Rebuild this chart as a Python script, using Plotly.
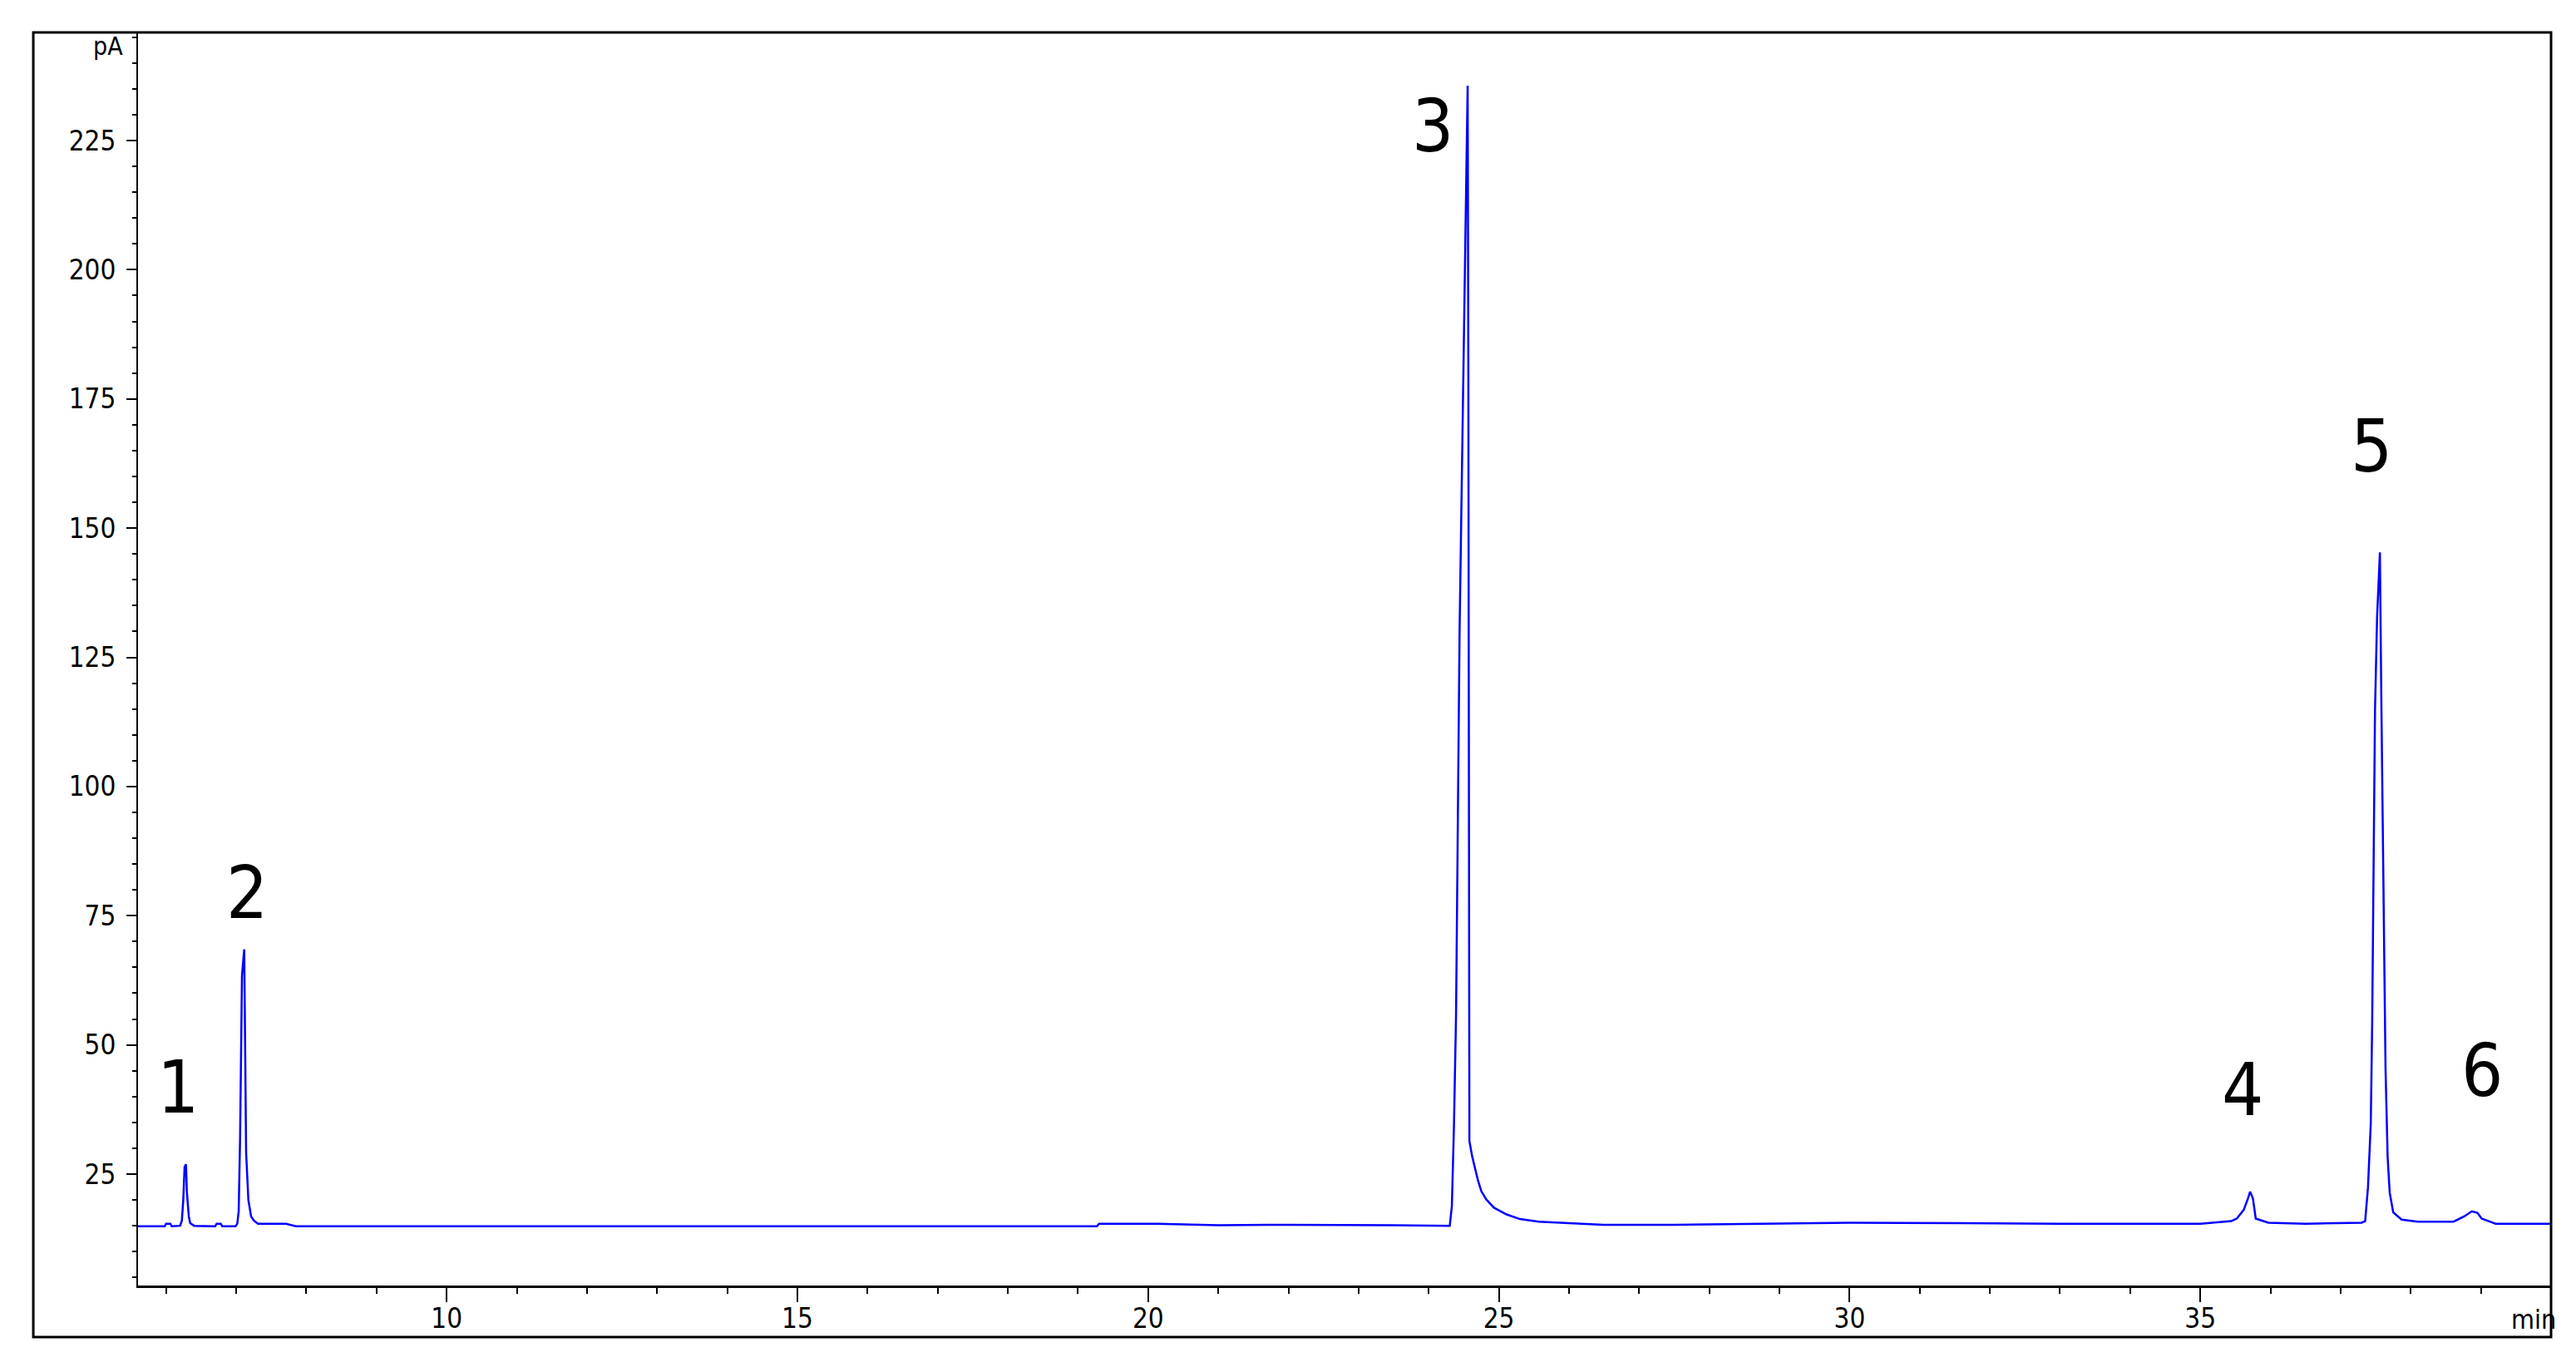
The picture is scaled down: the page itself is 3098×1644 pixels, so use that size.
import plotly.graph_objects as go

# retention time (min) and detector signal (pA)
time_min = [
    5.60, 5.98, 6.00, 6.06, 6.08, 6.20, 6.225, 6.245, 6.264, 6.284, 6.296, 6.324, 6.344, 6.40,
    6.70, 6.72, 6.78, 6.80, 6.99, 7.015, 7.035, 7.055, 7.082, 7.114, 7.122, 7.141, 7.173,
    7.212, 7.252, 7.31, 7.71, 7.85,
    12.0, 15.0, 19.27, 19.30, 20.13, 21.0, 22.0, 23.5, 24.25,
    24.30, 24.33, 24.36, 24.39, 24.42, 24.44, 24.467, 24.49, 24.518, 24.538, 24.555,
    24.565, 24.58, 24.62, 24.66, 24.70, 24.75, 24.82, 24.93, 25.11, 25.30, 25.57,
    26.0, 26.49, 27.5, 28.76, 30.0, 31.6, 33.0, 35.0,
    35.44, 35.52, 35.62, 35.68, 35.71, 35.75, 35.79, 35.97, 36.5,
    37.30, 37.35, 37.39, 37.43, 37.45, 37.47, 37.49, 37.52, 37.56, 37.58, 37.61, 37.64,
    37.67, 37.70, 37.75, 37.87, 38.10, 38.61,
    38.76, 38.87, 38.95, 39.01, 39.11, 39.21, 40.0,
]
signal_pa = [
    14.9, 14.9, 15.4, 15.4, 14.9, 15.0, 16.0, 20.0, 26.4, 26.9, 21.6, 16.8, 15.5, 15.0,
    14.9, 15.4, 15.4, 14.9, 14.9, 15.4, 17.8, 32.0, 63.4, 68.5, 56.7, 29.1, 20.0,
    16.8, 16.0, 15.4, 15.4, 14.9,
    14.9, 14.9, 14.9, 15.4, 15.4, 15.1, 15.2, 15.1, 15.0,
    15.0, 18.8, 34.4, 56.0, 107.0, 130.0, 155.0, 176.0, 196.0, 222.0, 235.6,
    180.0, 31.4, 28.4, 26.0, 23.9, 21.7, 20.1, 18.5, 17.2, 16.3, 15.8,
    15.5, 15.2, 15.2, 15.4, 15.6, 15.5, 15.4, 15.4,
    15.9, 16.4, 18.1, 20.3, 21.6, 20.3, 16.4, 15.6, 15.4,
    15.6, 15.9, 22.4, 34.8, 54.2, 83.3, 114.6, 132.9, 145.3, 117.3, 77.9, 45.6,
    28.4, 21.4, 17.6, 16.2, 15.8, 15.8,
    16.8, 17.8, 17.5, 16.4, 15.9, 15.4, 15.4,
]

peak_labels = ["1", "2", "3", "4", "5", "6"]
peak_label_x = [6.17, 7.15, 24.06, 35.60, 37.44, 39.02]
peak_label_y = [41.8, 79.5, 227.9, 41.3, 165.8, 45.1]

x_tick_vals = [10, 15, 20, 25, 30, 35]
y_tick_vals = [25, 50, 75, 100, 125, 150, 175, 200, 225]

NARROW = "Liberation Sans Narrow, DejaVu Sans Condensed, Arial Narrow, sans-serif"

fig = go.Figure()
fig.add_trace(go.Scatter(
    x=time_min, y=signal_pa,
    mode="lines",
    line=dict(color="rgb(0,0,255)", width=2.5),
    showlegend=False,
    hoverinfo="x+y",
))

for lab, lx, ly in zip(peak_labels, peak_label_x, peak_label_y):
    fig.add_annotation(
        x=lx, y=ly, text=lab, showarrow=False,
        xanchor="center", yanchor="middle",
        font=dict(family=NARROW, size=88, color="black"),
    )

# units
fig.add_annotation(x=0, y=1, xref="paper", yref="paper", text="pA",
                   showarrow=False, xanchor="right", yanchor="top",
                   xshift=-16, yshift=4,
                   font=dict(family=NARROW, size=30, color="black"))
fig.add_annotation(x=1, y=0, xref="paper", yref="paper", text="min",
                   showarrow=False, xanchor="right", yanchor="top",
                   xshift=8, yshift=-20,
                   font=dict(family=NARROW, size=32, color="black"))

# outer frame around the whole chart
fig.add_shape(type="rect", xref="paper", yref="paper",
              x0=-0.0434, x1=1.0, y0=-0.0412, y1=1.0007,
              line=dict(color="black", width=3), layer="above")

# page body has an 8px margin, so the figure is a bit smaller than the window
fig.update_layout(
    width=3082, height=1628,
    margin=dict(l=158, r=22, t=32, b=90, pad=0),
    paper_bgcolor="white", plot_bgcolor="white",
    xaxis=dict(
        range=[5.6, 40.0],
        showgrid=False, zeroline=False,
        showline=True, linecolor="black", linewidth=3,
        ticks="outside", tickvals=x_tick_vals, ticklen=17, tickwidth=2, tickcolor="black",
        minor=dict(dtick=1, tick0=0, ticks="outside", ticklen=7, tickwidth=2,
                   tickcolor="black", showgrid=False),
        tickfont=dict(family=NARROW, size=33, color="black"),
        ticklabelstandoff=-9,
    ),
    yaxis=dict(
        range=[3.44, 245.76],
        showgrid=False, zeroline=False,
        showline=True, linecolor="black", linewidth=2,
        ticks="outside", tickvals=y_tick_vals, ticklen=12, tickwidth=2, tickcolor="black",
        minor=dict(dtick=5, tick0=0, ticks="outside", ticklen=5, tickwidth=2,
                   tickcolor="black", showgrid=False),
        tickfont=dict(family=NARROW, size=33, color="black"),
        ticklabelstandoff=6,
    ),
)

fig.write_html("out.html")
